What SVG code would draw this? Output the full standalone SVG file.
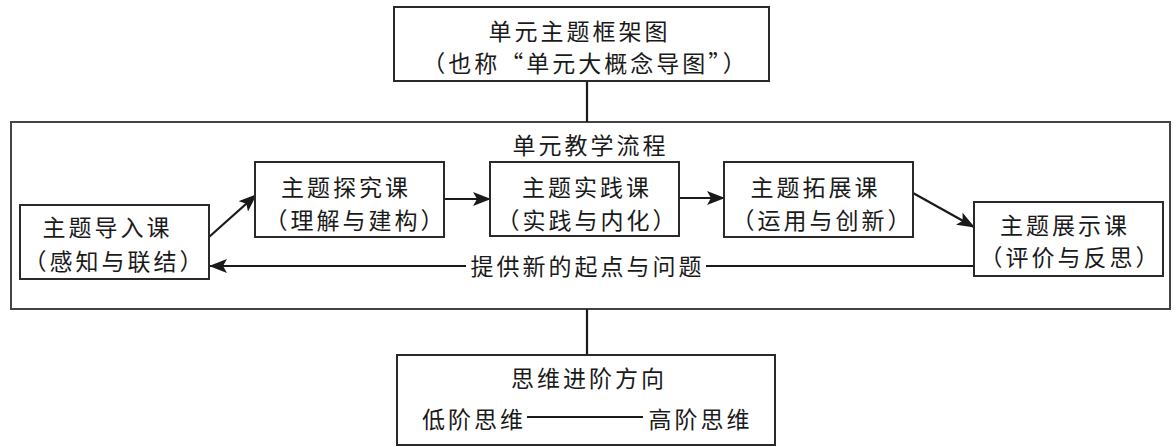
<svg xmlns="http://www.w3.org/2000/svg" width="1176" height="447" viewBox="0 0 1176 447">
<style>
.box{fill:#fff;stroke:#2a2a2a;stroke-width:2}
.frame{fill:none;stroke:#444;stroke-width:2}
.t{font-family:"Noto Sans CJK SC","Noto Sans CJK TC",sans-serif;font-size:23px;fill:#1a1a1a;text-anchor:middle;letter-spacing:3px}
.c{fill:none;stroke:#1a1a1a;stroke-width:2.2}
</style>
<defs>
<marker id="ah" viewBox="0 0 18 14" refX="17" refY="7" markerWidth="18" markerHeight="14" markerUnits="userSpaceOnUse" orient="auto">
<path d="M0,0 L18,7 L0,14 L4,7 Z" fill="#1a1a1a"/>
</marker>
</defs>
<rect width="1176" height="447" fill="#fff"/>
<g id="frame">
<rect class="frame" x="11" y="122" width="1159" height="187"/>
<text class="t" x="590.5" y="153.5">单元教学流程</text>
</g>
<g id="connectors">
<line class="c" x1="587" y1="81" x2="587" y2="122"/>
<line class="c" x1="587" y1="309" x2="587" y2="355"/>
<line class="c" x1="209" y1="237" x2="256" y2="195" marker-end="url(#ah)"/>
<line class="c" x1="444" y1="199" x2="490" y2="199" marker-end="url(#ah)"/>
<line class="c" x1="679" y1="198" x2="724" y2="198" marker-end="url(#ah)"/>
<line class="c" x1="913" y1="193" x2="974" y2="227" marker-end="url(#ah)"/>
<line class="c" x1="974" y1="266" x2="210" y2="266" marker-end="url(#ah)"/>
<rect x="466" y="252" width="240" height="28" fill="#fff"/>
<text class="t" x="587.5" y="275">提供新的起点与问题</text>
</g>
<g id="top">
<rect class="box" x="394" y="7" width="375" height="74"/>
<text class="t" x="579.5" y="40">单元主题框架图</text>
<text class="t" x="585.5" y="71.5">（也称“单元大概念导图”）</text>
</g>
<g id="n1">
<rect class="box" x="20" y="205" width="189" height="74"/>
<text class="t" x="107.5" y="236">主题导入课</text>
<text class="t" x="114.5" y="270">（感知与联结）</text>
</g>
<g id="n2">
<rect class="box" x="255" y="162" width="189" height="75"/>
<text class="t" x="346" y="196">主题探究课</text>
<text class="t" x="355.5" y="229">（理解与建构）</text>
</g>
<g id="n3">
<rect class="box" x="490" y="162" width="189" height="74"/>
<text class="t" x="587" y="196">主题实践课</text>
<text class="t" x="587.5" y="229">（实践与内化）</text>
</g>
<g id="n4">
<rect class="box" x="724" y="162" width="189" height="75"/>
<text class="t" x="815.5" y="196">主题拓展课</text>
<text class="t" x="822.5" y="229">（运用与创新）</text>
</g>
<g id="n5">
<rect class="box" x="974" y="202" width="189" height="74"/>
<text class="t" x="1065" y="234">主题展示课</text>
<text class="t" x="1070.5" y="266">（评价与反思）</text>
</g>
<g id="bottom">
<rect class="box" x="397" y="355" width="378" height="90"/>
<text class="t" x="589" y="387">思维进阶方向</text>
<text class="t" x="474" y="428">低阶思维</text>
<line class="c" x1="527" y1="417" x2="643" y2="417"/>
<text class="t" x="700.5" y="428">高阶思维</text>
</g>
</svg>
